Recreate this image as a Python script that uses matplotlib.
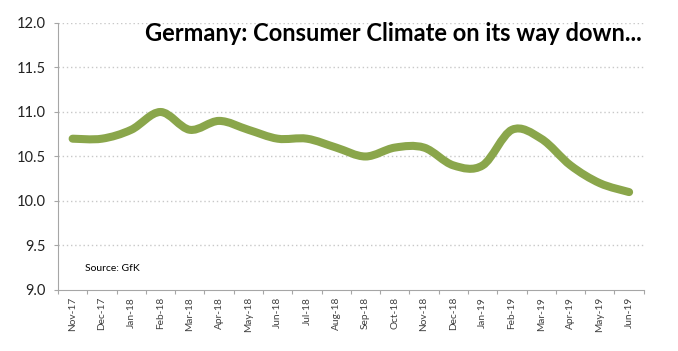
import matplotlib.pyplot as plt
import numpy as np
from matplotlib.path import Path
from matplotlib.patches import PathPatch

# Data
months = ["Nov-17", "Dec-17", "Jan-18", "Feb-18", "Mar-18", "Apr-18", "May-18",
          "Jun-18", "Jul-18", "Aug-18", "Sep-18", "Oct-18", "Nov-18", "Dec-18",
          "Jan-19", "Feb-19", "Mar-19", "Apr-19", "May-19", "Jun-19"]
climate = [10.7, 10.7, 10.8, 11.0, 10.8, 10.9, 10.8, 10.7, 10.7, 10.6,
           10.5, 10.6, 10.6, 10.4, 10.4, 10.8, 10.7, 10.4, 10.2, 10.1]
y_ticks = [9.0, 9.5, 10.0, 10.5, 11.0, 11.5, 12.0]

LINE_COLOR = "#8aa64b"
GRID_COLOR = "#c8c8c8"

fig = plt.figure(figsize=(6.78, 3.51), dpi=100)
ax = fig.add_axes([0.0855, 0.1738, 0.864, 0.7607])

# Excel-style smoothed line: Bezier segments through each point
x = np.arange(len(climate), dtype=float)
y = np.array(climate)
pts = np.column_stack([x, y])
verts = [pts[0]]
codes = [Path.MOVETO]
for i in range(len(pts) - 1):
    p0 = pts[max(i - 1, 0)]
    p1 = pts[i]
    p2 = pts[i + 1]
    p3 = pts[min(i + 2, len(pts) - 1)]
    c1 = p1 + (p2 - p0) / 6.0
    c2 = p2 - (p3 - p1) / 6.0
    verts += [c1, c2, p2]
    codes += [Path.CURVE4] * 3
patch = PathPatch(Path(verts, codes), facecolor="none", edgecolor=LINE_COLOR,
                  linewidth=5.8, capstyle="round", joinstyle="round", zorder=3)
ax.add_patch(patch)

# Axes
ax.set_xlim(-0.5, len(months) - 0.5)
ax.set_ylim(9.0, 12.0)
ax.set_yticks(y_ticks)
ax.set_yticklabels([f"{v:.1f}" for v in y_ticks], fontsize=10.5, color="#222222",
                   family="Lato")
ax.set_xticks(x)
ax.set_xticklabels(months, rotation=90, fontsize=7.3, color="#404040", family="Lato")
ax.set_xticks(np.arange(-0.5, len(months)), minor=True)
ax.tick_params(axis="x", which="major", length=0, pad=5)
ax.tick_params(axis="x", which="minor", length=3, color="#a6a6a6", width=0.8)
ax.tick_params(axis="y", length=3, color="#a6a6a6", width=0.8, pad=6)

for v in y_ticks[1:]:
    ax.axhline(v, color=GRID_COLOR, linestyle=(0, (1, 2)), linewidth=1, zorder=1)

for side in ["top", "right"]:
    ax.spines[side].set_visible(False)
for side in ["left", "bottom"]:
    ax.spines[side].set_color("#a6a6a6")
    ax.spines[side].set_linewidth(0.8)

# Title and source
fig.text(0.947, 0.905, "Germany: Consumer Climate on its way down...",
         ha="right", va="center", fontsize=17, fontweight="bold",
         family="Lato", color="black")
ax.text(0.42, 9.24, "Source: GfK", fontsize=7.5, family="Lato", color="black",
        va="center")

fig.savefig("out.png", dpi=100)
